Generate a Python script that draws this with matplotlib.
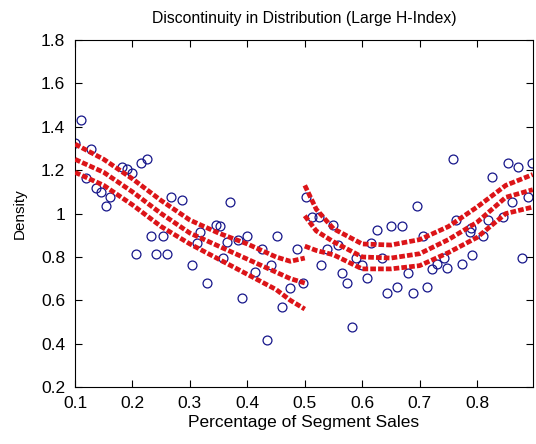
import numpy as np
import matplotlib
matplotlib.use('Agg')
import matplotlib.pyplot as plt
from matplotlib.ticker import FixedLocator, FixedFormatter

plt.rcParams['font.family'] = ['Liberation Sans', 'DejaVu Sans']

# observed points (blue circles)
obs_x = [0.100, 0.110, 0.127, 0.119, 0.137, 0.146, 0.161, 0.154, 0.181, 0.190,
         0.199, 0.215, 0.226, 0.267, 0.286, 0.370, 0.233, 0.253, 0.207, 0.241,
         0.260, 0.304, 0.330, 0.346, 0.390, 0.435, 0.461, 0.399, 0.451, 0.425,
         0.442, 0.358, 0.364, 0.384, 0.413, 0.474, 0.487, 0.352, 0.312, 0.318,
         0.497, 0.503, 0.512, 0.524, 0.550, 0.538, 0.558, 0.529, 0.625, 0.616,
         0.590, 0.582, 0.564, 0.573, 0.608, 0.600, 0.635, 0.643, 0.661, 0.679,
         0.688, 0.713, 0.721, 0.731, 0.742, 0.747, 0.774, 0.792, 0.811, 0.788,
         0.879, 0.705, 0.758, 0.853, 0.871, 0.895, 0.826, 0.695, 0.651, 0.669,
         0.764, 0.790, 0.845, 0.860, 0.889, 0.819]
obs_y = [1.324, 1.431, 1.297, 1.165, 1.119, 1.098, 1.078, 1.037, 1.213, 1.204,
         1.188, 1.231, 1.250, 1.078, 1.062, 1.054, 0.898, 0.898, 0.813, 0.813,
         0.813, 0.765, 0.682, 0.947, 0.611, 0.417, 0.571, 0.895, 0.896, 0.835,
         0.765, 0.797, 0.870, 0.878, 0.732, 0.658, 0.835, 0.942, 0.863, 0.916,
         0.681, 1.078, 0.985, 0.985, 0.947, 0.836, 0.855, 0.765, 0.926, 0.863,
         0.794, 0.478, 0.724, 0.682, 0.703, 0.765, 0.794, 0.632, 0.660, 0.724,
         0.632, 0.660, 0.743, 0.766, 0.794, 0.748, 0.766, 0.811, 0.898, 0.916,
         0.794, 0.898, 1.250, 1.231, 1.216, 1.231, 1.170, 1.035, 0.942, 0.942,
         0.970, 0.932, 0.985, 1.054, 1.078, 0.970]

# fitted density below the cut (x < 0.5)
left_x = [0.10, 0.15, 0.20, 0.25, 0.30, 0.35, 0.40, 0.45, 0.475, 0.50]
left_hi = [1.32, 1.25, 1.16, 1.06, 0.97, 0.91, 0.86, 0.80, 0.78, 0.795]
left_mid = [1.25, 1.19, 1.10, 1.00, 0.91, 0.85, 0.79, 0.73, 0.70, 0.68]
left_lo = [1.19, 1.13, 1.04, 0.94, 0.86, 0.79, 0.72, 0.65, 0.60, 0.56]

# fitted density above the cut (x >= 0.5)
right_x = [0.50, 0.52, 0.55, 0.60, 0.65, 0.70, 0.75, 0.80, 0.85, 0.897]
right_hi = [1.13, 1.02, 0.93, 0.86, 0.855, 0.88, 0.94, 1.03, 1.13, 1.18]
right_mid = [0.99, 0.92, 0.87, 0.80, 0.795, 0.815, 0.88, 0.96, 1.075, 1.11]
right_lo = [0.85, 0.83, 0.81, 0.745, 0.745, 0.76, 0.82, 0.89, 1.00, 1.03]

xticks = [0.1, 0.2, 0.3, 0.4, 0.5, 0.6, 0.7, 0.8]
yticks = [0.2, 0.4, 0.6, 0.8, 1.0, 1.2, 1.4, 1.6, 1.8]
ytick_labels = ['0.2', '0.4', '0.6', '0.8', '1', '1.2', '1.4', '1.6', '1.8']

fig = plt.figure(figsize=(5.36, 4.44), dpi=100)
ax = fig.add_axes([0.140, 0.128, 0.854, 0.782])

ax.plot(obs_x, obs_y, 'o', mfc='none', mec='#16168a', ms=6.4, mew=0.9, zorder=2)

for xs, ys in [(left_x, left_hi), (left_x, left_mid), (left_x, left_lo),
               (right_x, right_hi), (right_x, right_mid), (right_x, right_lo)]:
    ax.plot(xs, ys, color='#dc1418', lw=3.4, linestyle=(0, (1.2, 0.45)),
            solid_capstyle='butt', dash_capstyle='butt', zorder=3)

ax.set_xlim(0.1, 0.897)
ax.set_ylim(0.2, 1.8)
ax.xaxis.set_major_locator(FixedLocator(xticks))
ax.xaxis.set_major_formatter(FixedFormatter([str(t) for t in xticks]))
ax.yaxis.set_major_locator(FixedLocator(yticks))
ax.yaxis.set_major_formatter(FixedFormatter(ytick_labels))
ax.tick_params(direction='in', top=True, right=True, length=5, width=0.8,
               labelsize=12.5)
ax.tick_params(axis='x', pad=6)
ax.tick_params(axis='y', pad=7)
for s in ax.spines.values():
    s.set_linewidth(0.8)

ax.set_xlabel('Percentage of Segment Sales', fontsize=12.5, labelpad=3)
ax.set_ylabel('Density', fontsize=11, labelpad=10)
ax.set_title('Discontinuity in Distribution (Large H-Index)', fontsize=11.3, pad=12)

fig.savefig('out.png', dpi=100)
